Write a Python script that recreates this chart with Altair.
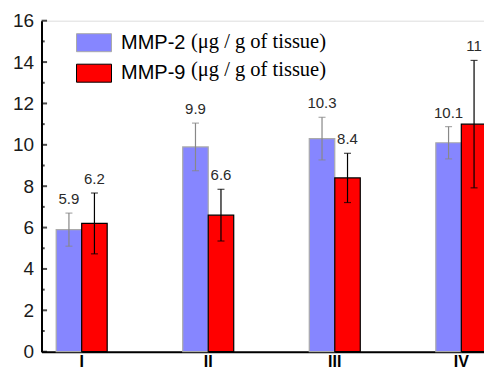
import altair as alt
import pandas as pd

groups = ["I", "II", "III", "IV"]
series = ["MMP-2", "MMP-9"]
mmp2 = [5.9, 9.9, 10.3, 10.1]
mmp2_err = [0.8, 1.15, 1.03, 0.78]
mmp9 = [6.2, 6.6, 8.4, 11.0]
mmp9_err = [1.47, 1.25, 1.19, 3.08]
labels2 = ["5.9", "9.9", "10.3", "10.1"]
labels9 = ["6.2", "6.6", "8.4", "11"]
unit_text = "(\u03bcg / g of tissue)"
major_ticks = [0, 2, 4, 6, 8, 10, 12, 14, 16]
minor_ticks = [1, 3, 5, 7, 9, 11, 13, 15]

rows = []
for g, v, e, l in zip(groups, mmp2, mmp2_err, labels2):
    rows.append(dict(group=g, series="MMP-2", value=v, lo=v - e, hi=v + e, label=l))
for g, v, e, l in zip(groups, mmp9, mmp9_err, labels9):
    rows.append(dict(group=g, series="MMP-9", value=v, lo=v - e, hi=v + e, label=l))
df = pd.DataFrame(rows)

x_enc = alt.X("group:N", sort=groups,
              scale=alt.Scale(paddingInner=0.597, paddingOuter=0.116),
              axis=alt.Axis(title=None, labelAngle=0, ticks=False, domain=True,
                            domainColor="black", domainWidth=2,
                            labelFont="Liberation Sans", labelFontSize=16,
                            labelFontWeight="bold", labelColor="black",
                            labelPadding=1.5))
xo_enc = alt.XOffset("series:N", sort=series,
                     scale=alt.Scale(paddingInner=0, paddingOuter=0))
y_scale = alt.Scale(domain=[0, 16], nice=False)

leg = alt.Legend(title=None, orient="none", legendX=42, legendY=11.5,
                 symbolType="M-1.75,-0.9H1.75V0.9H-1.75Z", symbolSize=400,
                 symbolStrokeWidth=1, labelFont="Liberation Sans",
                 labelFontSize=20, labelColor="black", labelOffset=16.5,
                 rowPadding=7.5, labelLimit=300)

bars = alt.Chart(df).mark_bar(strokeWidth=1.2).encode(
    x=x_enc,
    xOffset=xo_enc,
    y=alt.Y("value:Q", scale=y_scale,
            axis=alt.Axis(title=None, values=major_ticks, ticks=False,
                          domain=True, domainColor="black", domainWidth=2,
                          grid=False, labelFont="Liberation Sans",
                          labelFontSize=19, labelColor="#1a1a1a",
                          labelPadding=8)),
    fill=alt.Fill("series:N", sort=series,
                  scale=alt.Scale(domain=series, range=["#8686ff", "#ff0000"]),
                  legend=leg),
    stroke=alt.Stroke("series:N", sort=series,
                      scale=alt.Scale(domain=series, range=["#aaaaaa", "#000000"]),
                      legend=leg),
)

err_color = alt.Color("series:N", sort=series,
                      scale=alt.Scale(domain=series, range=["#888888", "#000000"]),
                      legend=None)

err_rule = alt.Chart(df).mark_rule(strokeWidth=1.2).encode(
    x=x_enc, xOffset=xo_enc,
    y=alt.Y("lo:Q", scale=y_scale), y2="hi:Q",
    color=err_color,
)
cap_hi = alt.Chart(df).mark_tick(orient="horizontal", size=7, thickness=1.2).encode(
    x=x_enc, xOffset=xo_enc, y=alt.Y("hi:Q", scale=y_scale), color=err_color)
cap_lo = alt.Chart(df).mark_tick(orient="horizontal", size=7, thickness=1.2).encode(
    x=x_enc, xOffset=xo_enc, y=alt.Y("lo:Q", scale=y_scale), color=err_color)

text = alt.Chart(df).mark_text(baseline="bottom", dy=-6, font="Liberation Sans",
                               fontSize=15, color="#2a2a2a").encode(
    x=x_enc, xOffset=xo_enc, y=alt.Y("hi:Q", scale=y_scale), text="label:N")

tick_major = alt.Chart(pd.DataFrame({"t": major_ticks})).mark_tick(
    orient="horizontal", thickness=2, color="black").encode(
    y=alt.Y("t:Q", scale=y_scale), x=alt.value(2.8), size=alt.value(5.5))
tick_minor = alt.Chart(pd.DataFrame({"t": minor_ticks})).mark_tick(
    orient="horizontal", thickness=2, color="black").encode(
    y=alt.Y("t:Q", scale=y_scale), x=alt.value(1.6), size=alt.value(3.2))

unit_df = pd.DataFrame({"series": series, "unit": [unit_text, unit_text]})
unit_layers = []
for i, s in enumerate(series):
    unit_layers.append(
        alt.Chart(unit_df[unit_df.series == s]).mark_text(
            align="left", baseline="middle", font="Liberation Serif",
            fontSize=20.5, color="black").encode(
            text="unit:N", x=alt.value(149.5), y=alt.value(21.5 + 27.5 * i)))

chart = alt.layer(bars, err_rule, cap_hi, cap_lo, text, tick_major, tick_minor,
                  *unit_layers).properties(
    width=460, height=331,
    autosize=alt.AutoSizeParams(type="none"),
    padding={"left": 33.5, "top": 12.7, "right": -17.5, "bottom": 20.5},
).configure_view(stroke="black", strokeWidth=2).configure(background="white")

chart.save("out.html", embed_options={"renderer": "svg", "actions": False})
